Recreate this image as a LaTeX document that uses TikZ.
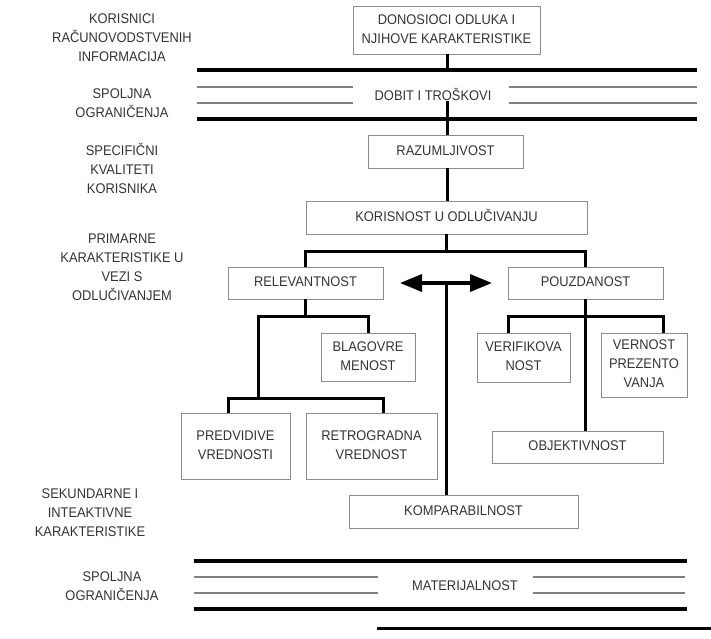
\documentclass[tikz,border=0pt]{standalone}
\usepackage{fontspec}
\setmainfont{Liberation Sans}[FakeStretch=0.92]
\usetikzlibrary{arrows.meta}
\tikzset{
  box/.style={draw=black!45, line width=0.9pt, inner sep=0pt, align=center, text=black!80},
  lab/.style={inner sep=0pt, align=center, text=black!80},
  conn/.style={line width=3pt, black},
  heavy/.style={line width=4pt, black},
  hair/.style={line width=1.1pt, black!50},
  dbl/.style={line width=3.5pt, black, {Triangle[length=22pt,width=17pt]}-{Triangle[length=22pt,width=17pt]}},
}
\begin{document}
\begin{tikzpicture}[x=1pt,y=-1pt,font=\fontsize{14}{19}\selectfont]
\useasboundingbox (0,0) rectangle (711,638);
% left labels
\node[lab] (l1) at (122,38.2) {\strut KORISNICI\strut\\\strut RAČUNOVODSTVENIH\strut\\\strut INFORMACIJA\strut};
\node[lab] (l2) at (122,103.7) {\strut SPOLJNA\strut\\\strut OGRANIČENJA\strut};
\node[lab] (l3) at (122,170.2) {\strut SPECIFIČNI\strut\\\strut KVALITETI\strut\\\strut KORISNIKA\strut};
\node[lab] (l4) at (122,267.7) {\strut PRIMARNE\strut\\\strut KARAKTERISTIKE U\strut\\\strut VEZI S\strut\\\strut ODLUČIVANJEM\strut};
\node[lab] (l5) at (90,513.2) {\strut SEKUNDARNE I\strut\\\strut INTEAKTIVNE\strut\\\strut KARAKTERISTIKE\strut};
\node[lab] (l6) at (112,587) {\strut SPOLJNA\strut\\\strut OGRANIČENJA\strut};
% boxes
\node[box, minimum width=187pt, minimum height=48pt] (don) at (446.5,30) {\strut DONOSIOCI ODLUKA I\strut\\\strut NJIHOVE KARAKTERISTIKE\strut};
\node[lab] (dob) at (433,96.2) {\strut DOBIT I TROŠKOVI\strut};
\node[box, minimum width=155pt, minimum height=33pt] (raz) at (445.5,151.5) {\strut RAZUMLJIVOST\strut};
\node[box, minimum width=281pt, minimum height=33pt] (kor) at (446.5,217.5) {\strut KORISNOST U ODLUČIVANJU\strut};
\node[box, minimum width=155pt, minimum height=32pt] (rel) at (305.5,283) {\strut RELEVANTNOST\strut};
\node[box, minimum width=155pt, minimum height=32pt] (pou) at (585.5,283) {\strut POUZDANOST\strut};
\node[box, minimum width=94pt, minimum height=48pt] (bla) at (368,357) {\strut BLAGOVRE\strut\\\strut MENOST\strut};
\node[box, minimum width=109pt, minimum height=66pt] (pre) at (235.5,446) {\strut PREDVIDIVE\strut\\\strut VREDNOSTI\strut};
\node[box, minimum width=131pt, minimum height=66pt] (ret) at (371.5,446) {\strut RETROGRADNA\strut\\\strut VREDNOST\strut};
\node[box, minimum width=93pt, minimum height=49pt] (ver) at (523.5,357.5) {\strut VERIFIKOVA\strut\\\strut NOST\strut};
\node[box, minimum width=86pt, minimum height=64pt] (vern) at (644,365) {\strut VERNOST\strut\\\strut PREZENTO\strut\\\strut VANJA\strut};
\node[box, minimum width=171pt, minimum height=32pt] (obj) at (577.5,447) {\strut OBJEKTIVNOST\strut};
\node[box, minimum width=229pt, minimum height=33pt] (kom) at (463.5,511.5) {\strut KOMPARABILNOST\strut};
\node[lab] (mat) at (465,586.2) {\strut MATERIJALNOST\strut};
% band coordinates
\coordinate (a1) at (197,70);  \coordinate (b1) at (697,70);
\coordinate (a2) at (197,119); \coordinate (b2) at (697,119);
\coordinate (a3) at (194,561); \coordinate (b3) at (687,561);
\coordinate (a4) at (194,609); \coordinate (b4) at (687,609);
\coordinate (a5) at (377,628); \coordinate (b5) at (711,628);
\coordinate (dv) at (447,101);
\coordinate (rj) at (258,316);
\coordinate (rk) at (258,398);
\coordinate (pj) at (585.5,316);
\coordinate (al) at (400,283);
\coordinate (ar) at (492,283);
\coordinate (ac) at (446.5,283);
% bands
\draw[heavy] (a1) -- (b1);
\draw[heavy] (a2) -- (b2);
\draw[hair] (197,87) -- (353,87) (509,87) -- (697,87);
\draw[hair] (197,103) -- (353,103) (509,103) -- (697,103);
\draw[heavy] (a3) -- (b3);
\draw[heavy] (a4) -- (b4);
\draw[hair] (194,577) -- (378,577) (533,577) -- (685,577);
\draw[hair] (194,593) -- (378,593) (533,593) -- (685,593);
\draw[line width=3pt] (a5) -- (b5);
% connectors
\draw[conn] ([xshift=0.5pt]don.south) -- ([xshift=0.5pt]don.south |- a1);
\draw[conn] (dv) -- (dv |- raz.north);
\draw[conn] ([xshift=1.5pt]raz.south) -- ([xshift=1.5pt]raz.south |- kor.north);
\draw[conn] (kor.south) -- ++(0,16);
\draw[conn] (rel.north) |- ([yshift=-17pt]kor.south) -| (pou.north);
\draw[conn] (rel.south) -- (rel.south |- rj);
\draw[conn] (bla.north) |- (rj) -- (rk);
\draw[conn] ([xshift=-7.5pt]pre.north) |- (rk);
\draw[conn] ([xshift=11.5pt]ret.north) |- (rk);
\draw[conn] (pou.south) -- (pou.south |- obj.north);
\draw[conn] ([xshift=-15.5pt]ver.north) |- (pj);
\draw[conn] ([xshift=19pt]vern.north) |- (pj);
\draw[dbl] (al) -- (ar);
\draw[conn] (ac) -- (ac |- kom.north);
\end{tikzpicture}
\end{document}
